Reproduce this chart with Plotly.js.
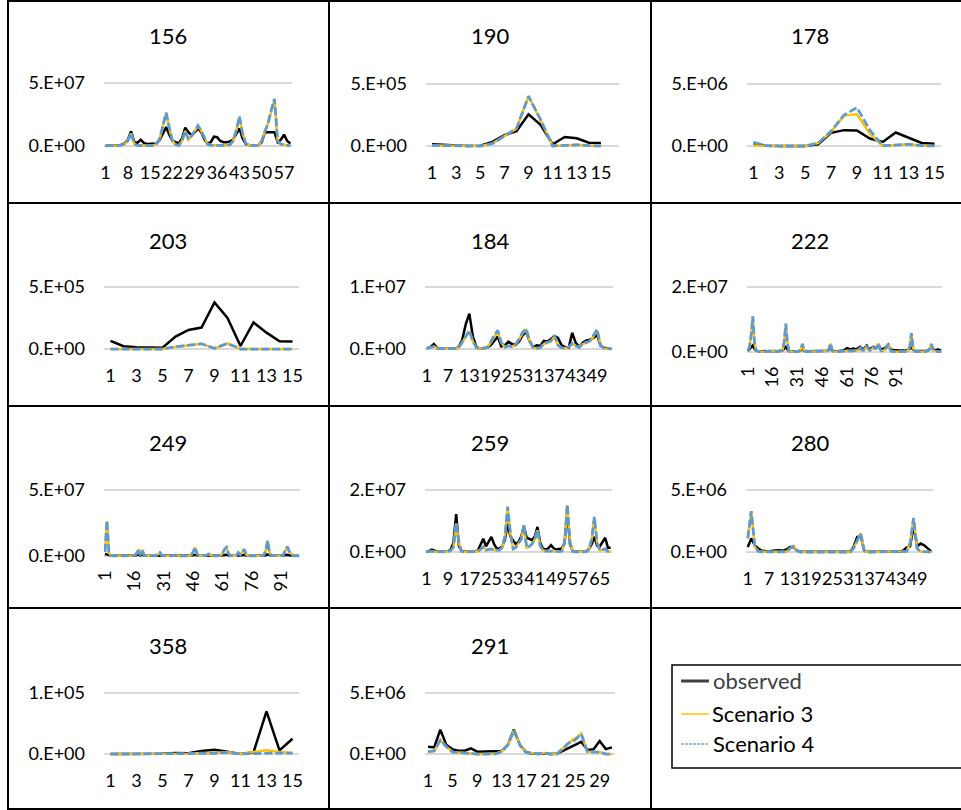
<!DOCTYPE html>
<html>
<head>
<meta charset="utf-8">
<script src="https://cdn.plot.ly/plotly-3.0.1.min.js"></script>
<style>html,body{margin:0;padding:0;background:#fff;}#chart{width:961px;height:810px;}</style>
</head>
<body>
<div id="chart"></div>
<script>
// ---------- DATA ----------
const seriesNames = ['observed', 'Scenario 3', 'Scenario 4'];

const obs156 = [0.2e6,0.2e6,0.3e6,0.3e6,0.5e6,1.0e6,2e6,5e6,11.7e6,3e6, 2.5e6,5e6,2.5e6,1.5e6,1.5e6,1.5e6,2e6,5e6,10e6,15e6, 9e6,4e6,3e6,2e6,6e6,14.5e6,11e6,8.5e6,11e6,14e6, 11e6,5e6,2e6,3e6,7.5e6,7e6,4e6,3e6,3e6,3.5e6, 5e6,9e6,14e6,6e6,1.5e6,0.8e6,0.5e6,0.5e6,0.8e6,3e6, 11e6,11e6,11e6,11e6,3e6,5e6,9e6,4e6,2e6];
const s3_156 = [0.1e6,0.1e6,0.2e6,0.2e6,0.3e6,0.8e6,1.5e6,4e6,10e6,1.5e6, 0.5e6,0.3e6,0.2e6,0.2e6,0.3e6,0.5e6,1.5e6,6e6,16e6,26e6, 14e6,4e6,1e6,0.5e6,4e6,12e6,5e6,8e6,12e6,16e6, 12e6,6e6,1.5e6,0.5e6,0.5e6,0.4e6,0.3e6,0.3e6,0.5e6,1e6, 4e6,12e6,23e6,10e6,2e6,0.5e6,0.3e6,0.3e6,0.5e6,4e6, 12e6,18e6,28e6,37e6,4e6,1.5e6,1e6,0.5e6,0.2e6];
const s4_156 = [0.1e6,0.1e6,0.2e6,0.2e6,0.3e6,0.8e6,1.5e6,4.2e6,10.2e6,1.5e6, 0.5e6,0.3e6,0.2e6,0.2e6,0.3e6,0.5e6,1.6e6,6.2e6,16.5e6,26.5e6, 14.5e6,4e6,1e6,0.5e6,4e6,12e6,5e6,8e6,12e6,16.2e6, 12e6,6e6,1.5e6,0.5e6,0.5e6,0.4e6,0.3e6,0.3e6,0.5e6,1e6, 4e6,12.5e6,23.5e6,10e6,2e6,0.5e6,0.3e6,0.3e6,0.5e6,4e6, 12e6,18.5e6,28.5e6,37.5e6,4e6,1.5e6,1e6,0.5e6,0.2e6];

const obs190 = [14e3,10e3,5e3,0,3e3,33e3,87e3,120e3,255e3,170e3,14e3,73e3,62e3,27e3,25e3];
const s3_190 = [5e3,3e3,0,0,0,19e3,80e3,140e3,400e3,210e3,0,8e3,10e3,3e3,0];
const s4_190 = [5e3,3e3,0,0,0,19e3,82e3,142e3,402e3,212e3,0,8e3,10e3,3e3,0];

const obs178 = [1.9e5,0.2e5,0,0,0,1.4e5,1.06e6,1.28e6,1.25e6,6e5,3.3e5,1.09e6,6.5e5,2.4e5,1.9e5];
const s3_178 = [5e4,0,0,0,0,2.4e5,1.14e6,2.45e6,2.55e6,1.0e6,0,8e4,1.4e5,5e4,0];
const s4_178 = [3e5,2e4,0,0,0,2.4e5,1.2e6,2.5e6,3.1e6,1.28e6,2e4,8e4,1.4e5,3e4,0];

const obs203 = [6.5e4,2.2e4,1.4e4,1e4,1e4,1e5,1.54e5,1.73e5,3.76e5,2.5e5,2.4e4,2.14e5,1.32e5,6.2e4,6e4];
const s3_203 = [0,0,0,0,0,1.9e4,3.2e4,4.3e4,5e3,4.6e4,0,0,0,0,0];
const s4_203 = [0,0,0,0,0,1.8e4,3.1e4,4.2e4,5e3,4.5e4,0,0,0,0,0];

const obs184 = [0.1e6,0.3e6,0.8e6,0.1e6,0.05e6,0.05e6,0.05e6,0.05e6,0.05e6,0.3e6, 1.5e6,4e6,5.7e6,2e6,0.3e6,0.1e6,0.1e6,0.2e6,0.6e6,1.4e6, 2.0e6,0.4e6,0.6e6,1.2e6,0.8e6,0.6e6,1.2e6,2.2e6,2.8e6,1.2e6, 0.3e6,0.6e6,0.5e6,1.3e6,1.2e6,1.6e6,2.1e6,1.8e6,0.6e6,0.3e6, 0.2e6,2.6e6,1.0e6,0.3e6,1.0e6,1.4e6,1.5e6,1.8e6,2.3e6,0.5e6, 0.2e6,0.1e6,0.05e6];
const s3_184 = [0.1e6,0.2e6,0.4e6,0.1e6,0.05e6,0.05e6,0.05e6,0.05e6,0.05e6,0.2e6, 1e6,2e6,2.8e6,1.2e6,0.2e6,0.1e6,0.1e6,0.2e6,1.0e6,2.0e6, 2.8e6,1.0e6,0.3e6,0.5e6,0.4e6,0.6e6,1.5e6,2.5e6,3.1e6,1.3e6, 0.2e6,0.1e6,0.2e6,0.8e6,1.0e6,1.2e6,2.0e6,0.6e6,0.2e6,0.1e6, 0.3e6,0.8e6,0.5e6,0.3e6,0.8e6,1.0e6,1.2e6,2.0e6,3.0e6,0.6e6, 0.1e6,0.05e6,0.02e6];
const s4_184 = [0.1e6,0.2e6,0.4e6,0.1e6,0.05e6,0.05e6,0.05e6,0.05e6,0.05e6,0.2e6, 1.1e6,2.2e6,3.0e6,1.3e6,0.2e6,0.1e6,0.1e6,0.2e6,1.1e6,2.2e6, 3.0e6,1.1e6,0.3e6,0.5e6,0.4e6,0.7e6,1.6e6,2.7e6,3.3e6,1.4e6, 0.2e6,0.1e6,0.2e6,0.9e6,1.1e6,1.3e6,2.2e6,0.6e6,0.2e6,0.1e6, 0.3e6,0.9e6,0.5e6,0.3e6,0.9e6,1.1e6,1.3e6,2.2e6,3.2e6,0.6e6, 0.1e6,0.05e6,0.02e6];

const obs222 = [0.3e6,0.8e6,1.5e6,2.0e6,1.0e6,0.4e6,0.3e6,0.2e6,0.2e6,0.2e6, 0.3e6,0.2e6,0.2e6,0.3e6,0.2e6,0.2e6,0.3e6,0.2e6,0.2e6,0.3e6, 0.3e6,0.5e6,1.0e6,1.8e6,0.8e6,0.3e6,0.2e6,0.2e6,0.3e6,0.2e6, 0.2e6,0.3e6,0.5e6,1.0e6,0.4e6,0.2e6,0.2e6,0.2e6,0.2e6,0.3e6, 0.2e6,0.2e6,0.2e6,0.2e6,0.3e6,0.2e6,0.2e6,0.3e6,0.4e6,0.6e6, 1.2e6,0.5e6,0.3e6,0.2e6,0.2e6,0.3e6,0.2e6,0.3e6,0.5e6,0.8e6, 1.2e6,1.0e6,0.8e6,0.9e6,1.1e6,0.8e6,0.9e6,1.3e6,1.6e6,1.0e6, 0.9e6,1.4e6,2.0e6,1.2e6,0.9e6,1.2e6,1.6e6,1.2e6,1.4e6,2.4e6, 1.2e6,0.8e6,0.9e6,1.2e6,1.6e6,2.2e6,1.1e6,0.7e6,0.6e6,0.5e6, 0.6e6,0.5e6,0.5e6,0.6e6,0.5e6,0.4e6,0.4e6,0.6e6,1.0e6,1.5e6, 0.8e6,0.4e6,0.3e6,0.3e6,0.3e6,0.2e6,0.2e6,0.2e6,0.3e6,0.5e6, 0.9e6,1.6e6,1.0e6,0.6e6,0.5e6,0.8e6,0.6e6,0.5e6];
const s3_222 = [0.5e6,1.5e6,5.0e6,10.9e6,3.0e6,0.5e6,0.2e6,0.1e6,0.1e6,0.1e6, 0.1e6,0.1e6,0.1e6,0.1e6,0.1e6,0.1e6,0.1e6,0.1e6,0.1e6,0.2e6, 0.3e6,0.6e6,3.0e6,8.6e6,2.5e6,0.3e6,0.1e6,0.1e6,0.1e6,0.1e6, 0.1e6,0.2e6,0.6e6,2.4e6,0.6e6,0.1e6,0.1e6,0.1e6,0.1e6,0.1e6, 0.1e6,0.1e6,0.1e6,0.1e6,0.1e6,0.1e6,0.1e6,0.2e6,0.3e6,0.8e6, 2.6e6,0.6e6,0.1e6,0.1e6,0.1e6,0.1e6,0.1e6,0.1e6,0.2e6,0.3e6, 0.4e6,0.3e6,0.2e6,0.3e6,0.4e6,0.3e6,0.4e6,0.8e6,1.2e6,0.6e6, 0.5e6,1.0e6,1.8e6,0.8e6,0.5e6,0.8e6,1.4e6,1.0e6,1.2e6,2.6e6, 0.8e6,0.3e6,0.4e6,0.8e6,1.4e6,2.4e6,0.8e6,0.2e6,0.1e6,0.1e6, 0.1e6,0.1e6,0.1e6,0.1e6,0.1e6,0.1e6,0.2e6,0.5e6,1.5e6,5.7e6, 1.2e6,0.2e6,0.1e6,0.1e6,0.1e6,0.1e6,0.1e6,0.1e6,0.2e6,0.4e6, 0.8e6,2.4e6,0.8e6,0.2e6,0.1e6,0.1e6,0.1e6,0.1e6];
const s4_222 = [0.5e6,1.6e6,5.2e6,11.0e6,3.1e6,0.5e6,0.2e6,0.1e6,0.1e6,0.1e6, 0.1e6,0.1e6,0.1e6,0.1e6,0.1e6,0.1e6,0.1e6,0.1e6,0.1e6,0.2e6, 0.3e6,0.6e6,3.1e6,8.7e6,2.6e6,0.3e6,0.1e6,0.1e6,0.1e6,0.1e6, 0.1e6,0.2e6,0.6e6,2.5e6,0.6e6,0.1e6,0.1e6,0.1e6,0.1e6,0.1e6, 0.1e6,0.1e6,0.1e6,0.1e6,0.1e6,0.1e6,0.1e6,0.2e6,0.3e6,0.8e6, 2.7e6,0.6e6,0.1e6,0.1e6,0.1e6,0.1e6,0.1e6,0.1e6,0.2e6,0.3e6, 0.4e6,0.3e6,0.2e6,0.3e6,0.4e6,0.3e6,0.4e6,0.8e6,1.2e6,0.6e6, 0.5e6,1.0e6,1.9e6,0.8e6,0.5e6,0.8e6,1.4e6,1.0e6,1.2e6,2.7e6, 0.8e6,0.3e6,0.4e6,0.8e6,1.4e6,2.5e6,0.8e6,0.2e6,0.1e6,0.1e6, 0.1e6,0.1e6,0.1e6,0.1e6,0.1e6,0.1e6,0.2e6,0.5e6,1.6e6,5.8e6, 1.2e6,0.2e6,0.1e6,0.1e6,0.1e6,0.1e6,0.1e6,0.1e6,0.2e6,0.4e6, 0.8e6,2.5e6,0.8e6,0.2e6,0.1e6,0.1e6,0.1e6,0.1e6];

const obs249 = [1.5e6,1.0e6,0.5e6,0.2e6,0.1e6,0.1e6,0.1e6,0.1e6,0.1e6,0.1e6, 0.1e6,0.1e6,0.1e6,0.1e6,0.1e6,0.2e6,0.6e6,1.2e6,0.4e6,1.0e6, 0.3e6,0.1e6,0.1e6,0.1e6,0.1e6,0.1e6,0.2e6,0.4e6,0.6e6,0.3e6, 0.1e6,0.1e6,0.1e6,0.1e6,0.1e6,0.1e6,0.3e6,0.2e6,0.1e6,0.1e6, 0.1e6,0.1e6,0.1e6,0.1e6,0.2e6,0.6e6,1.0e6,0.4e6,0.1e6,0.1e6, 0.1e6,0.1e6,0.3e6,0.4e6,0.2e6,0.1e6,0.1e6,0.1e6,0.1e6,0.2e6, 0.5e6,0.8e6,1.0e6,0.5e6,0.2e6,0.1e6,0.1e6,0.2e6,0.6e6,0.4e6, 0.8e6,1.0e6,0.4e6,0.1e6,0.1e6,0.1e6,0.1e6,0.1e6,0.1e6,0.1e6, 0.1e6,0.2e6,0.6e6,1.2e6,0.5e6,0.1e6,0.1e6,0.1e6,0.1e6,0.1e6, 0.1e6,0.3e6,0.8e6,1.0e6,0.6e6,0.3e6,0.1e6,0.1e6,0.1e6,0.1e6];
const s3_249 = [3.0e6,26.5e6,3.0e6,0.2e6,0.1e6,0.1e6,0.1e6,0.1e6,0.1e6,0.1e6, 0.1e6,0.1e6,0.1e6,0.1e6,0.1e6,0.3e6,1.5e6,5.0e6,0.8e6,4.5e6, 0.6e6,0.1e6,0.1e6,0.1e6,0.1e6,0.1e6,0.3e6,1.2e6,2.5e6,0.5e6, 0.1e6,0.1e6,0.1e6,0.1e6,0.1e6,0.2e6,0.8e6,0.3e6,0.1e6,0.1e6, 0.1e6,0.1e6,0.1e6,0.2e6,0.8e6,3.0e6,6.5e6,1.5e6,0.2e6,0.1e6, 0.1e6,0.2e6,0.8e6,1.5e6,0.5e6,0.1e6,0.1e6,0.1e6,0.2e6,0.5e6, 2.0e6,5.0e6,6.5e6,2.0e6,0.3e6,0.1e6,0.1e6,0.3e6,2.5e6,1.0e6, 3.0e6,5.0e6,1.2e6,0.2e6,0.1e6,0.1e6,0.1e6,0.1e6,0.1e6,0.1e6, 0.2e6,0.8e6,4.0e6,11.6e6,2.0e6,0.2e6,0.1e6,0.1e6,0.1e6,0.1e6, 0.2e6,1.0e6,4.5e6,7.0e6,3.5e6,1.5e6,0.3e6,0.1e6,0.1e6,0.1e6];
const s4_249 = [3.1e6,26.8e6,3.1e6,0.2e6,0.1e6,0.1e6,0.1e6,0.1e6,0.1e6,0.1e6, 0.1e6,0.1e6,0.1e6,0.1e6,0.1e6,0.3e6,1.6e6,5.2e6,0.8e6,4.6e6, 0.6e6,0.1e6,0.1e6,0.1e6,0.1e6,0.1e6,0.3e6,1.2e6,2.6e6,0.5e6, 0.1e6,0.1e6,0.1e6,0.1e6,0.1e6,0.2e6,0.8e6,0.3e6,0.1e6,0.1e6, 0.1e6,0.1e6,0.1e6,0.2e6,0.8e6,3.1e6,6.6e6,1.5e6,0.2e6,0.1e6, 0.1e6,0.2e6,0.8e6,1.5e6,0.5e6,0.1e6,0.1e6,0.1e6,0.2e6,0.5e6, 2.1e6,5.1e6,6.6e6,2.0e6,0.3e6,0.1e6,0.1e6,0.3e6,2.6e6,1.0e6, 3.1e6,5.1e6,1.2e6,0.2e6,0.1e6,0.1e6,0.1e6,0.1e6,0.1e6,0.1e6, 0.2e6,0.8e6,4.1e6,11.8e6,2.0e6,0.2e6,0.1e6,0.1e6,0.1e6,0.1e6, 0.2e6,1.0e6,4.6e6,7.1e6,3.5e6,1.5e6,0.3e6,0.1e6,0.1e6,0.1e6];

const obs259 = [0.1e6,0.3e6,0.76e6,0.3e6,0.1e6,0.05e6,0.05e6,0.05e6,0.2e6,0.8e6, 3.0e6,12.2e6,2.0e6,0.3e6,0.1e6,0.05e6,0.05e6,0.1e6,0.2e6,0.5e6, 2.5e6,4.3e6,1.8e6,3.5e6,4.9e6,2.5e6,1.1e6,1.2e6,1.8e6,4.0e6, 9.2e6,5.0e6,3.8e6,2.5e6,3.2e6,5.0e6,8.3e6,4.6e6,4.2e6,3.8e6, 5.0e6,8.1e6,3.0e6,1.1e6,0.8e6,1.2e6,2.2e6,1.2e6,0.8e6,0.9e6, 1.1e6,3.0e6,13.0e6,2.5e6,0.3e6,0.1e6,0.05e6,0.05e6,0.05e6,0.1e6, 1.0e6,2.5e6,4.9e6,2.0e6,1.8e6,3.0e6,4.6e6,1.4e6,1.4e6];
const s3_259 = [0.05e6,0.1e6,0.3e6,0.1e6,0.05e6,0.05e6,0.05e6,0.05e6,0.1e6,0.5e6, 1.5e6,9.2e6,3.0e6,0.2e6,0.05e6,0.05e6,0.05e6,0.05e6,0.1e6,0.3e6, 0.8e6,1.6e6,0.6e6,0.8e6,1.0e6,0.6e6,0.5e6,0.6e6,1.5e6,5.0e6, 14.4e6,6.0e6,1.0e6,1.5e6,2.7e6,4.0e6,8.6e6,1.4e6,1.8e6,2.5e6, 4.0e6,7.0e6,2.0e6,0.5e6,0.3e6,0.3e6,0.5e6,0.3e6,0.2e6,0.2e6, 0.3e6,3.0e6,15.1e6,3.0e6,0.2e6,0.05e6,0.05e6,0.05e6,0.05e6,0.1e6, 1.0e6,4.0e6,11.1e6,3.0e6,0.5e6,0.8e6,1.0e6,0.2e6,0.1e6];
const s4_259 = [0.05e6,0.1e6,0.3e6,0.1e6,0.05e6,0.05e6,0.05e6,0.05e6,0.1e6,0.5e6, 1.6e6,9.4e6,3.1e6,0.2e6,0.05e6,0.05e6,0.05e6,0.05e6,0.1e6,0.3e6, 0.8e6,1.7e6,0.6e6,0.8e6,1.0e6,0.6e6,0.5e6,0.6e6,1.6e6,5.1e6, 14.6e6,6.1e6,1.0e6,1.5e6,2.8e6,4.1e6,8.8e6,1.4e6,1.8e6,2.6e6, 4.1e6,7.2e6,2.0e6,0.5e6,0.3e6,0.3e6,0.5e6,0.3e6,0.2e6,0.2e6, 0.3e6,3.1e6,15.3e6,3.1e6,0.2e6,0.05e6,0.05e6,0.05e6,0.05e6,0.1e6, 1.0e6,4.1e6,11.3e6,3.0e6,0.5e6,0.8e6,1.0e6,0.2e6,0.1e6];

const obs280 = [0.4e6,1.1e6,0.54e6,0.27e6,0.1e6,0.05e6,0.05e6,0.1e6,0.15e6,0.15e6, 0.1e6,0.2e6,0.4e6,0.4e6,0.1e6,0.02e6,0.02e6,0.02e6,0.02e6,0.02e6, 0.02e6,0.02e6,0.02e6,0.02e6,0.02e6,0.02e6,0.02e6,0.02e6,0.02e6,0.02e6, 0.4e6,1.2e6,1.35e6,0.1e6,0.02e6,0.02e6,0.02e6,0.02e6,0.02e6,0.02e6, 0.02e6,0.02e6,0.02e6,0.02e6,0.1e6,0.35e6,0.46e6,2.1e6,0.46e6,0.68e6, 0.54e6,0.27e6,0.05e6];
const s3_280 = [1.1e6,3.3e6,0.4e6,0.05e6,0.02e6,0.02e6,0.02e6,0.02e6,0.02e6,0.02e6, 0.02e6,0.02e6,0.3e6,0.46e6,0.1e6,0,0,0,0,0, 0,0,0,0,0,0,0,0,0,0, 0.3e6,0.9e6,1.5e6,0.1e6,0,0,0,0,0,0, 0,0,0,0,0.02e6,0.05e6,0.68e6,2.7e6,0.27e6,0.03e6, 0.02e6,0.02e6,0.01e6];
const s4_280 = [1.1e6,3.3e6,0.4e6,0.05e6,0.02e6,0.02e6,0.02e6,0.02e6,0.02e6,0.02e6, 0.02e6,0.02e6,0.3e6,0.46e6,0.1e6,0,0,0,0,0, 0,0,0,0,0,0,0,0,0,0, 0.3e6,0.9e6,1.5e6,0.1e6,0,0,0,0,0,0, 0,0,0,0,0.02e6,0.05e6,0.7e6,2.75e6,0.27e6,0.03e6, 0.02e6,0.02e6,0.01e6];

const obs358 = [200,200,200,300,500,1.6e3,1.1e3,4.9e3,7e3,3.8e3,0,2.7e3,70e3,6e3,25e3];
const s3_358 = [0,0,0,100,300,1.1e3,600,1.6e3,1.6e3,3.3e3,0,3.3e3,6e3,3.3e3,2.2e3];
const s4_358 = [0,0,0,100,200,800,300,800,1.1e3,2.7e3,0,800,1.6e3,1.6e3,1.6e3];

const obs291 = [0.6e6,0.54e6,2.0e6,0.73e6,0.38e6,0.27e6,0.27e6,0.46e6,0.19e6,0.19e6, 0.19e6,0.19e6,0.24e6,0.73e6,2.0e6,0.73e6,0.14e6,0.05e6,0,0.05e6, 0,0.02e6,0.27e6,0.54e6,0.79e6,1.0e6,0.33e6,0.38e6,1.06e6,0.4e6, 0.54e6];
const s3_291 = [0.19e6,0.24e6,1.14e6,0.6e6,0.16e6,0.11e6,0.08e6,0.05e6,0,0, 0,0.02e6,0.19e6,0.73e6,1.9e6,0.73e6,0.11e6,0.05e6,0.03e6,0.08e6, 0,0,0.46e6,0.92e6,1.28e6,1.68e6,0.19e6,0.19e6,0.16e6,0,0];
const s4_291 = [0.19e6,0.24e6,1.14e6,0.6e6,0.16e6,0.11e6,0.08e6,0.05e6,0,0, 0,0.02e6,0.19e6,0.73e6,1.9e6,0.73e6,0.11e6,0.05e6,0.03e6,0.08e6, 0,0,0.46e6,0.92e6,1.15e6,1.63e6,0.19e6,0.19e6,0.16e6,0,0];

// tick labels
const xt_156 = [1,8,15,22,29,36,43,50,57];
const xt_15  = [1,3,5,7,9,11,13,15];
const xt_184 = [1,7,13,19,25,31,37,43,49];
const xt_118 = [1,16,31,46,61,76,91];
const xt_259 = [1,9,17,25,33,41,49,57,65];
const xt_291 = [1,5,9,13,17,21,25,29];
const yLab = {
  '5e7': ['0.E+00','5.E+07'], '5e5': ['0.E+00','5.E+05'], '5e6': ['0.E+00','5.E+06'],
  '1e7': ['0.E+00','1.E+07'], '2e7': ['0.E+00','2.E+07'], '1e5': ['0.E+00','1.E+05']
};

// ---------- PANELS (data references + placement) ----------
const panels = [
  {t:'156', o:obs156, a:s3_156, b:s4_156, n:59,  top:5e7, yl:yLab['5e7'], xt:xt_156, rot:false, x0:104, x1:292, yT:83,  yZ:146, tx:168, ty:36},
  {t:'190', o:obs190, a:s3_190, b:s4_190, n:16,  top:5e5, yl:yLab['5e5'], xt:xt_15,  rot:false, x0:426, x1:619, yT:84,  yZ:146, tx:490, ty:36},
  {t:'178', o:obs178, a:s3_178, b:s4_178, n:15,  top:5e6, yl:yLab['5e6'], xt:xt_15,  rot:false, x0:747, x1:941, yT:84,  yZ:146, tx:810, ty:36},
  {t:'203', o:obs203, a:s3_203, b:s4_203, n:15,  top:5e5, yl:yLab['5e5'], xt:xt_15,  rot:false, x0:104, x1:299, yT:287, yZ:349, tx:168, ty:240},
  {t:'184', o:obs184, a:s3_184, b:s4_184, n:53,  top:1e7, yl:yLab['1e7'], xt:xt_184, rot:false, x0:425, x1:613, yT:287, yZ:349, tx:490, ty:240},
  {t:'222', o:obs222, a:s3_222, b:s4_222, n:118, top:2e7, yl:yLab['2e7'], xt:xt_118, rot:true,  x0:747, x1:942, yT:287, yZ:352, tx:810, ty:240},
  {t:'249', o:obs249, a:s3_249, b:s4_249, n:100, top:5e7, yl:yLab['5e7'], xt:xt_118, rot:true,  x0:104, x1:300, yT:490, yZ:556, tx:168, ty:442},
  {t:'259', o:obs259, a:s3_259, b:s4_259, n:69,  top:2e7, yl:yLab['2e7'], xt:xt_259, rot:false, x0:425, x1:612, yT:490, yZ:552, tx:490, ty:442},
  {t:'280', o:obs280, a:s3_280, b:s4_280, n:53,  top:5e6, yl:yLab['5e6'], xt:xt_184, rot:false, x0:746, x1:933, yT:490, yZ:552, tx:810, ty:442},
  {t:'358', o:obs358, a:s3_358, b:s4_358, n:15,  top:1e5, yl:yLab['1e5'], xt:xt_15,  rot:false, x0:104, x1:299, yT:693, yZ:754, tx:168, ty:645},
  {t:'291', o:obs291, a:s3_291, b:s4_291, n:31,  top:5e6, yl:yLab['5e6'], xt:xt_291, rot:false, x0:425, x1:615, yT:693, yZ:754, tx:490, ty:645}
];

// ---------- BUILD ----------
const W = 961, H = 810, PAD = 4;
const FONT = 'Lato, "Open Sans", sans-serif';
const X = px => px / W;
const Y = py => 1 - py / H;
const styles = [
  {color:'#000000', width:2.5},
  {color:'#FFC000', width:2.5},
  {color:'#5B9BD5', width:2.75, dash:'8px,3px'}
];

const traces = [];
const layout = {
  width: W, height: H, autosize: false,
  margin: {l:0, r:0, t:0, b:0, pad:0},
  paper_bgcolor: '#ffffff', plot_bgcolor: 'rgba(0,0,0,0)',
  showlegend: false,
  font: {family: FONT, color: '#000000', size: 18},
  shapes: [], annotations: []
};

panels.forEach((p, i) => {
  const k = i + 1;
  const xa = 'xaxis' + (k > 1 ? k : ''), ya = 'yaxis' + (k > 1 ? k : '');
  const xr = 'x' + (k > 1 ? k : ''), yr = 'y' + (k > 1 ? k : '');
  const cats = p.o.map((_, j) => j + 1);
  [p.o, p.a, p.b].forEach((vals, s) => {
    traces.push({
      type: 'scatter', mode: 'lines', name: seriesNames[s],
      x: cats, y: vals, xaxis: xr, yaxis: yr,
      line: Object.assign({shape: 'linear'}, styles[s]),
      hoverinfo: 'skip'
    });
  });
  const h = p.yZ - p.yT;
  const ext = PAD * p.top / h;
  layout[xa] = {
    domain: [X(p.x0), X(p.x1)], anchor: yr,
    range: [0.5, p.n + 0.5], fixedrange: true,
    showgrid: false, zeroline: false, showline: false, ticks: '',
    tickmode: 'array', tickvals: p.xt, ticktext: p.xt.map(String),
    tickangle: p.rot ? -90 : 0, automargin: false,
    ticklabelstandoff: p.rot ? 6 : 10,
    tickfont: {family: FONT, size: 18, color: '#000000'}
  };
  layout[ya] = {
    domain: [Y(p.yZ + PAD), Y(p.yT - PAD)], anchor: xr,
    range: [-ext, p.top + ext], fixedrange: true,
    showgrid: true, gridcolor: '#D9D9D9', gridwidth: 1.5,
    zeroline: false, showline: false, ticks: '',
    tickmode: 'array', tickvals: [0, p.top], ticktext: p.yl,
    automargin: false, ticklabelstandoff: 18,
    tickfont: {family: FONT, size: 18, color: '#000000'}
  };
  layout.annotations.push({
    xref: 'paper', yref: 'paper', x: X(p.tx), y: Y(p.ty),
    xanchor: 'center', yanchor: 'middle', showarrow: false,
    text: p.t, font: {family: FONT, size: 22, color: '#000000'}
  });
});

// cell borders
const vLines = [8, 329, 651];
const hLines = [1, 203, 406, 608, 809];
vLines.forEach(v => layout.shapes.push({type:'line', xref:'paper', yref:'paper',
  x0:X(v), x1:X(v), y0:Y(0), y1:Y(H), line:{color:'#000000', width:2}}));
hLines.forEach(hh => layout.shapes.push({type:'line', xref:'paper', yref:'paper',
  x0:X(8), x1:X(W), y0:Y(hh), y1:Y(hh), line:{color:'#000000', width:2}}));

// legend box
layout.shapes.push({type:'rect', xref:'paper', yref:'paper',
  x0:X(672), x1:X(975), y0:Y(768), y1:Y(665), line:{color:'#000000', width:1.5}});
const legendItems = [
  {name: seriesNames[0], y:681, line:{color:'#404040', width:3}, tc:'#404040', tx:711},
  {name: seriesNames[1], y:714, line:{color:'#FFC000', width:1.5}, tc:'#000000', tx:710},
  {name: seriesNames[2], y:744, line:{color:'#4472C4', width:1.2, dash:'3px,1px'}, tc:'#000000', tx:711}
];
legendItems.forEach(it => {
  layout.shapes.push({type:'line', xref:'paper', yref:'paper',
    x0:X(681), x1:X(709), y0:Y(it.y), y1:Y(it.y), line:it.line});
  layout.annotations.push({xref:'paper', yref:'paper', x:X(it.tx), y:Y(it.y - 1),
    xanchor:'left', yanchor:'middle', showarrow:false, text:it.name,
    font:{family:FONT, size:22, color:it.tc}});
});

Plotly.newPlot('chart', traces, layout, {staticPlot: true, displayModeBar: false});
</script>
</body>
</html>
